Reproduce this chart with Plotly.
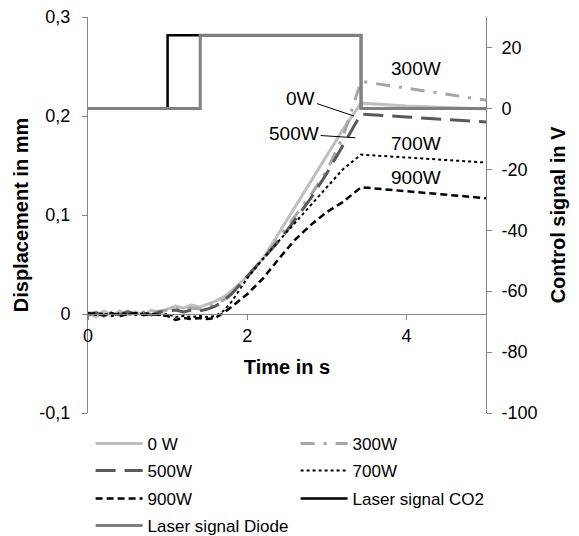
import plotly.graph_objects as go

# ---------------- data ----------------
time_s = [0.0, 0.1, 0.2, 0.3, 0.4, 0.5, 0.6, 0.7, 0.8, 0.9, 1.0, 1.1, 1.2, 1.3, 1.4, 1.5,
          1.6, 1.7, 1.8, 2.0, 2.2, 2.4, 2.6, 2.8, 3.0, 3.2, 3.43, 4.0, 5.0]

disp_0w = [0.002, -0.003, 0.003, -0.002, 0.003, -0.001, 0.002, -0.001, 0.004, 0.001, 0.005, 0.008, 0.006, 0.009, 0.007, 0.010,
           0.013, 0.017, 0.023, 0.038, 0.056, 0.082, 0.108, 0.134, 0.160, 0.186, 0.213, 0.210, 0.207]
disp_300w = [0.000, 0.002, -0.002, 0.002, 0.000, 0.003, -0.001, 0.002, 0.001, 0.003, 0.004, 0.006, 0.004, 0.006, 0.005, 0.007,
             0.010, 0.014, 0.020, 0.037, 0.056, 0.077, 0.099, 0.120, 0.145, 0.178, 0.235, 0.228, 0.216]
disp_500w = [-0.001, 0.001, -0.002, 0.001, -0.001, 0.002, 0.000, 0.001, -0.001, 0.002, 0.003, 0.004, 0.002, 0.004, 0.003, 0.005,
             0.008, 0.013, 0.020, 0.038, 0.055, 0.074, 0.095, 0.117, 0.142, 0.170, 0.202, 0.199, 0.194]
disp_700w = [0.001, -0.001, 0.001, -0.002, 0.001, 0.000, -0.001, 0.001, 0.000, -0.001, 0.000, -0.003, -0.002, -0.003, -0.002, -0.003,
             -0.002, 0.003, 0.012, 0.036, 0.056, 0.074, 0.092, 0.110, 0.128, 0.146, 0.161, 0.158, 0.153]
disp_900w = [0.000, 0.001, -0.001, 0.001, -0.002, 0.000, 0.001, -0.001, 0.000, -0.001, -0.002, -0.006, -0.004, -0.005, -0.004, -0.005,
             -0.004, 0.001, 0.007, 0.020, 0.036, 0.056, 0.075, 0.090, 0.103, 0.113, 0.128, 0.124, 0.117]

co2_t = [0.0, 1.0, 1.0, 3.43, 3.43, 5.0]
co2_v = [0, 0, 24, 24, 0, 0]
diode_t = [0.0, 1.41, 1.41, 3.43, 3.43, 5.0]
diode_v = [0, 0, 24, 24, 0, 0]

left_tickvals = [-0.1, 0, 0.1, 0.2, 0.3]
left_ticktext = ["-0,1", "0", "0,1", "0,2", "0,3"]
right_tickvals = [-100, -80, -60, -40, -20, 0, 20]
right_ticktext = ["-100", "-80", "-60", "-40", "-20", "0", "20"]
x_tickvals = [0, 2, 4]
x_ticktext = ["0", "2", "4"]

FONT = "Arial, Liberation Sans, sans-serif"
AX = "#868686"

fig = go.Figure()

series = [
    ("0 W", disp_0w, "#bfbfbf", "solid", 3, "legend"),
    ("300W", disp_300w, "#a6a6a6", "14px,9px,3px,9px", 3, "legend"),
    ("500W", disp_500w, "#595959", "20px,9px", 3, "legend2"),
    ("700W", disp_700w, "#000000", "dot", 2, "legend2"),
    ("900W", disp_900w, "#000000", "7px,4px", 2.5, "legend3"),
]
for name, vals, col, dash, w, lg in series:
    fig.add_trace(go.Scatter(x=time_s, y=vals, mode="lines", name=name, legend=lg,
                             line=dict(color=col, dash=dash, width=w), yaxis="y"))

fig.add_trace(go.Scatter(x=co2_t, y=co2_v, mode="lines", name="Laser signal CO2", legend="legend3",
                         line=dict(color="#000000", width=2.5), yaxis="y2"))
fig.add_trace(go.Scatter(x=diode_t, y=diode_v, mode="lines", name="Laser signal Diode", legend="legend4",
                         line=dict(color="#808080", width=3), yaxis="y2"))

legend_common = dict(orientation="h", xanchor="left", yanchor="middle", x=-0.001,
                     font=dict(family=FONT, size=17, color="#000000"),
                     bgcolor="rgba(0,0,0,0)", entrywidth=140, entrywidthmode="pixels",
                     itemwidth=47, tracegroupgap=0, borderwidth=0, indentation=3)

# page has an 8px body margin: the figure is sized so the plot area lands where the reference's is
fig.update_layout(
    width=571, height=528,
    margin=dict(l=80, r=93, t=9, b=123, autoexpand=False),
    paper_bgcolor="white", plot_bgcolor="white",
    font=dict(family=FONT, size=18, color="#000000"),
    showlegend=True,
    legend=dict(legend_common, y=-0.0782),
    legend2=dict(legend_common, y=-0.1464),
    legend3=dict(legend_common, y=-0.2171),
    legend4=dict(legend_common, y=-0.2854),
    xaxis=dict(range=[0, 5], anchor="free", position=0.25, showline=True, linecolor=AX, linewidth=1,
               ticks="outside", ticklen=5, tickcolor=AX, tickvals=x_tickvals, ticktext=x_ticktext,
               showgrid=False, zeroline=False, tickfont=dict(size=18), automargin=False,
               title=dict(text="Time in s", font=dict(size=20, weight="bold"), standoff=15)),
    yaxis=dict(range=[-0.1, 0.3], showline=True, linecolor=AX, linewidth=1, ticks="outside",
               ticklen=5, tickcolor=AX, tickvals=left_tickvals, ticktext=left_ticktext,
               showgrid=False, zeroline=False, tickfont=dict(size=18), ticklabelstandoff=8,
               automargin=False, ticklabeloverflow="allow",
               title=dict(text="Displacement in mm", font=dict(size=20, weight="bold"), standoff=5)),
    yaxis2=dict(range=[-100, 30], overlaying="y", side="right", anchor="free", position=1,
                showline=True, linecolor=AX, linewidth=1, ticks="outside", ticklen=5, tickcolor=AX,
                tickvals=right_tickvals, ticktext=right_ticktext, showgrid=False, zeroline=False,
                tickfont=dict(size=18), ticklabelstandoff=6, automargin=False, ticklabeloverflow="allow",
                title=dict(text="Control signal in V", font=dict(size=20, weight="bold"), standoff=14)),
)

ann_font = dict(family=FONT, size=19, color="#000000")
fig.add_annotation(x=4.125, y=0.2475, text="300W", showarrow=False, font=ann_font, xref="x", yref="y")
fig.add_annotation(x=4.125, y=0.1727, text="700W", showarrow=False, font=ann_font, xref="x", yref="y")
fig.add_annotation(x=4.125, y=0.138, text="900W", showarrow=False, font=ann_font, xref="x", yref="y")
fig.add_annotation(x=3.34, y=0.200, ax=2.675, ay=0.218, axref="x", ayref="y", text="0W",
                   showarrow=True, arrowhead=0, arrowwidth=1, arrowcolor="#000000", font=ann_font,
                   xref="x", yref="y")
fig.add_annotation(x=3.36, y=0.178, ax=2.59, ay=0.182, axref="x", ayref="y", text="500W",
                   showarrow=True, arrowhead=0, arrowwidth=1, arrowcolor="#000000", font=ann_font,
                   xref="x", yref="y")

fig.write_html("out.html")
